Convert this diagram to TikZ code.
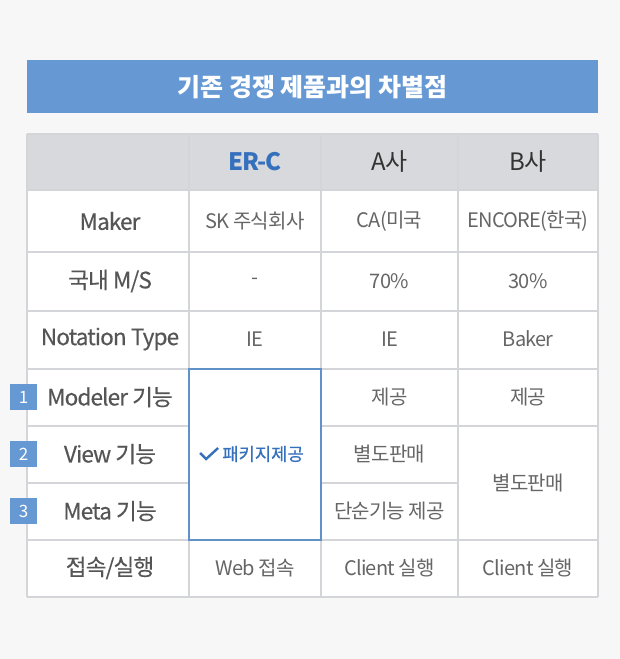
\documentclass[tikz,border=0pt]{standalone}
\usepackage{fontspec}
\setmainfont{Noto Sans CJK KR}
\newfontfamily\tightfont{Noto Sans CJK KR}[LetterSpace=-4]
\newfontfamily\labelfont{Noto Sans CJK KR}[LetterSpace=-4, FakeBold=0.3]
\newfontfamily\pkgfont{Noto Sans CJK KR}[FakeBold=0.5]
\usetikzlibrary{positioning}
\definecolor{pagebg}{HTML}{F7F7F7}
\definecolor{barblue}{HTML}{6699D4}
\definecolor{gridgray}{HTML}{D3D5D8}
\definecolor{headgray}{HTML}{D8D9DC}
\definecolor{ercblue}{HTML}{3570BD}
\definecolor{labeltext}{HTML}{555555}
\definecolor{celltext}{HTML}{666666}
\tikzstyle{grid}=[draw=gridgray, line width=2pt]
\tikzstyle{headtext}=[text=black!80, font=\tightfont\fontsize{24}{28}\selectfont, inner sep=0pt]
\tikzstyle{rowlabel}=[text=labeltext, font=\labelfont\fontsize{22.6}{26}\selectfont, inner sep=0pt]
\tikzstyle{celltxt}=[text=celltext, font=\tightfont\fontsize{20}{24}\selectfont, inner sep=0pt]
\tikzstyle{badge}=[fill=barblue, text=white, minimum width=27pt, minimum height=26pt, inner sep=0pt, font=\fontsize{17}{19}\selectfont]

\begin{document}
\begin{tikzpicture}[x=1pt, y=-1pt]
            \useasboundingbox[fill=pagebg] (0,0) rectangle (620,659);

            % title bar
            \fill[barblue] (27,60) rectangle (598,113);
            \node[text=white, font=\fontsize{25}{29}\selectfont\bfseries, inner sep=0pt] (title) at (312.5,87) {기존 경쟁 제품과의 차별점};

            % table
            \fill[white] (27,134) rectangle (598,597);
            \fill[headgray] (27,134) rectangle (598,190);
            \begin{scope}[every path/.style={grid}]
                \path (27,134) -- (598,134);
                \path (27,190) -- (598,190);
                \path (27,252) -- (598,252);
                \path (27,311) -- (598,311);
                \path (27,369) -- (598,369);
                \path (27,426) -- (189,426);
                \path (321,426) -- (598,426);
                \path (27,483) -- (189,483);
                \path (321,483) -- (458,483);
                \path (27,540) -- (598,540);
                \path (27,597) -- (598,597);
                \path (27,134) -- (27,597);
                \path (189,134) -- (189,597);
                \path (321,134) -- (321,597);
                \path (458,134) -- (458,597);
                \path (598,134) -- (598,597);
            \end{scope}
            \draw[barblue!95!black, line width=2.5pt] (189,369) rectangle (321,540);

            % header
            \node[headtext, text=ercblue, font=\tightfont\fontsize{24}{28}\selectfont\bfseries] (erc) at (255,162) {ER-C};
            \node[headtext] (asa) at (389.5,162) {A사};
            \node[headtext] (bsa) at (528,162) {B사};

            % row labels
            \begin{scope}[every node/.style={rowlabel}]
                \node (maker) at (110,221) {Maker};
                \node (share) at (110,281) {국내 M/S};
                \node (nota) at (110,339) {Notation Type};
                \node (modeler) at (110,397) {Modeler 기능};
                \node (view) at (110,454) {View 기능};
                \node (meta) at (110,511) {Meta 기능};
                \node (conn) at (110,568) {접속/실행};
            \end{scope}

            \begin{scope}[every node/.style={badge}]
                \node (b1) at (23.5,397) {1};
                \node (b2) at (23.5,454) {2};
                \node (b3) at (23.5,511) {3};
            \end{scope}

            % cells
            \begin{scope}[every node/.style={celltxt}]
                \node (c11) at (255,221) {SK 주식회사};
                \node (c12) at (389.5,221) {CA(미국};
                \node (c13) at (528,221) {ENCORE(한국)};
                \node (c21) at (255,281) {-};
                \node (c22) at (389.5,281) {70\%};
                \node (c23) at (528,281) {30\%};
                \node (c31) at (255,339) {IE};
                \node (c32) at (389.5,339) {IE};
                \node (c33) at (528,339) {Baker};
                \node (c42) at (389.5,397) {제공};
                \node (c43) at (528,397) {제공};
                \node (c52) at (389.5,454) {별도판매};
                \node (c53) at (528,483) {별도판매};
                \node (c62) at (389.5,511) {단순기능 제공};
                \node (c71) at (255,568) {Web 접속};
                \node (c72) at (389.5,568) {Client 실행};
                \node (c73) at (528,568) {Client 실행};
                \node[text=ercblue, font=\pkgfont\fontsize{17.7}{21}\selectfont] (pkg) at (263,454) {패키지제공};
            \end{scope}
            \draw[ercblue, line width=2.4pt] ([xshift=-22pt, yshift=1pt]pkg.west) -- ([xshift=-16pt, yshift=-5pt]pkg.west) -- ([xshift=-4pt, yshift=6pt]pkg.west);
        \end{tikzpicture}
\end{document}
